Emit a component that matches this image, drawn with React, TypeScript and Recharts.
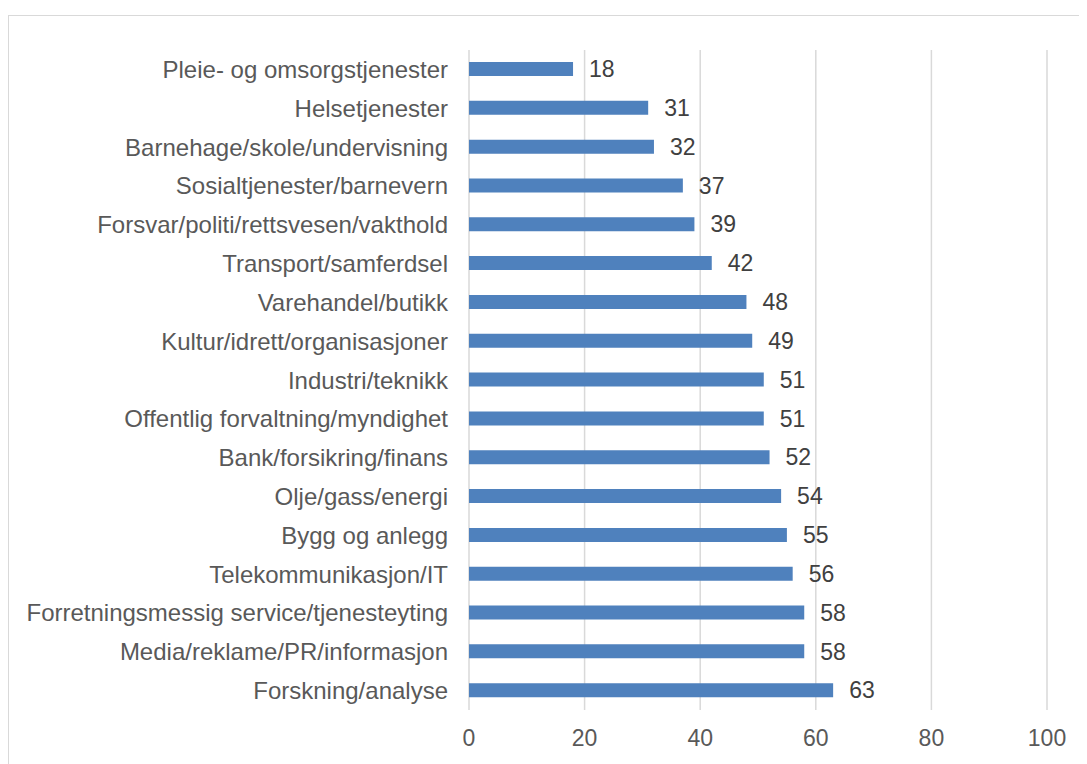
import React from "react";
import { BarChart, Bar, XAxis, YAxis, CartesianGrid, LabelList } from "recharts";

const categories = [
  "Pleie- og omsorgstjenester",
  "Helsetjenester",
  "Barnehage/skole/undervisning",
  "Sosialtjenester/barnevern",
  "Forsvar/politi/rettsvesen/vakthold",
  "Transport/samferdsel",
  "Varehandel/butikk",
  "Kultur/idrett/organisasjoner",
  "Industri/teknikk",
  "Offentlig forvaltning/myndighet",
  "Bank/forsikring/finans",
  "Olje/gass/energi",
  "Bygg og anlegg",
  "Telekommunikasjon/IT",
  "Forretningsmessig service/tjenesteyting",
  "Media/reklame/PR/informasjon",
  "Forskning/analyse",
];
const values = [18, 31, 32, 37, 39, 42, 48, 49, 51, 51, 52, 54, 55, 56, 58, 58, 63];
const xTicks = [0, 20, 40, 60, 80, 100];

const data = categories.map((name, i) => ({ name, value: values[i] }));

export default function App() {
  const font = "'Liberation Sans', Arial, sans-serif";
  return (
    <div style={{ position: "relative", width: 1079, height: 756, fontFamily: font }}>
      <div
        style={{
          position: "absolute",
          left: 0,
          top: 7,
          width: 1079,
          height: 749,
          borderTop: "1.5px solid #d9d9d9",
          borderLeft: "1.5px solid #d9d9d9",
          boxSizing: "border-box",
        }}
      />
      <div style={{ position: "absolute", left: 0, top: 0 }}>
        <BarChart
          width={1079}
          height={756}
          data={data}
          layout="vertical"
          margin={{ top: 42, right: 40, bottom: 24, left: 0 }}
          barCategoryGap="0%"
        >
          <CartesianGrid horizontal={false} vertical={true} stroke="#d9d9d9" strokeWidth={1.5} />
          <XAxis
            type="number"
            domain={[0, 100]}
            ticks={xTicks}
            axisLine={false}
            tickLine={false}
            tickSize={6}
            tickMargin={14}
            height={30}
            tick={{ fill: "#595959", fontSize: 23, fontFamily: font }}
            interval={0}
          />
          <YAxis
            type="category"
            dataKey="name"
            width={461}
            axisLine={false}
            tickLine={false}
            tickSize={6}
            tickMargin={15}
            interval={0}
            tick={{ fill: "#595959", fontSize: 24, fontFamily: font }}
          />
          <Bar dataKey="value" fill="#4F81BD" barSize={14} isAnimationActive={false}>
            <LabelList
              dataKey="value"
              position="right"
              offset={16}
              fill="#404040"
              fontSize={23}
              fontFamily={font}
            />
          </Bar>
        </BarChart>
      </div>
    </div>
  );
}
